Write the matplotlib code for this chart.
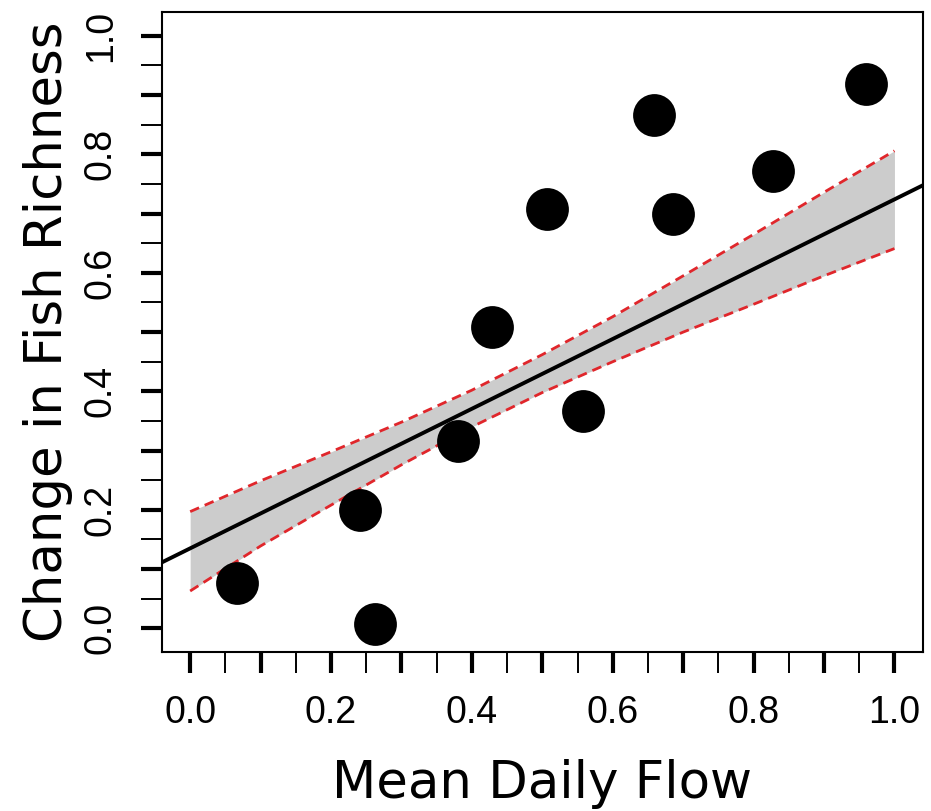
import numpy as np
import matplotlib
matplotlib.use("Agg")
import matplotlib.pyplot as plt

flow = [0.067, 0.241, 0.263, 0.381, 0.429, 0.507, 0.558, 0.659, 0.685, 0.827, 0.959]
richness = [0.076, 0.199, 0.008, 0.317, 0.508, 0.707, 0.366, 0.867, 0.700, 0.772, 0.919]

# fitted line
intercept = 0.135
slope = 0.589

# confidence band edges
band_x = [0.0, 0.1, 0.2, 0.3, 0.4, 0.5, 0.6, 0.7, 0.8, 0.9, 1.0]
band_hi = [0.197, 0.249, 0.298, 0.348, 0.402, 0.462, 0.526, 0.595, 0.665, 0.736, 0.806]
band_lo = [0.063, 0.139, 0.208, 0.276, 0.340, 0.398, 0.450, 0.500, 0.547, 0.595, 0.641]

major = np.arange(0, 1.001, 0.1)
minor = np.arange(0.05, 1.0, 0.1)
tick_labels = ["0.0", "", "0.2", "", "0.4", "", "0.6", "", "0.8", "", "1.0"]

fig = plt.figure(figsize=(9.31, 8.11), dpi=100)
ax = fig.add_axes([0.174, 0.196, 0.817, 0.789])

ax.fill_between(band_x, band_lo, band_hi, color='#cccccc', lw=0, zorder=1)
ax.plot(band_x, band_hi, color='#e0262b', lw=2, ls=(0, (3.5, 2.2)), zorder=2)
ax.plot(band_x, band_lo, color='#e0262b', lw=2, ls=(0, (3.5, 2.2)), zorder=2)
ax.axline((0, intercept), slope=slope, color='black', lw=2.8, zorder=3)
ax.scatter(flow, richness, s=950, color='black', zorder=4, linewidths=0)

ax.set_xlim(-0.04, 1.04)
ax.set_ylim(-0.04, 1.04)

for sp in ax.spines.values():
    sp.set_linewidth(1.5)

lab_font = {'family': ['Liberation Sans', 'DejaVu Sans'], 'size': 27}
ax.set_xticks(major)
ax.set_xticklabels(tick_labels, fontdict=lab_font)
ax.set_yticks(major)
ax.set_yticklabels(tick_labels, fontdict=lab_font, rotation=90, va='center')
ax.set_xticks(minor, minor=True)
ax.set_yticks(minor, minor=True)
ax.tick_params(which='major', direction='out', length=15, width=3, pad=16)
ax.tick_params(which='minor', direction='out', length=15, width=1.4)

ax.set_xlabel("Mean Daily Flow", fontsize=37, family='DejaVu Sans', labelpad=20)
ax.set_ylabel("Change in Fish Richness", fontsize=37, family='DejaVu Sans', labelpad=7)

fig.savefig("out.png", dpi=100)
